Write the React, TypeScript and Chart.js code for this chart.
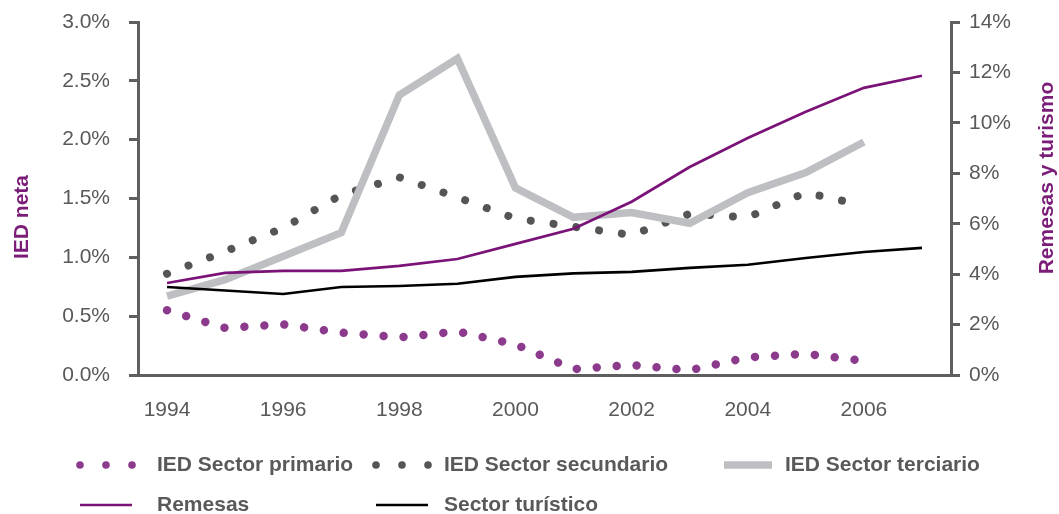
import React, { useEffect, useRef } from "react";
import { Chart, registerables } from "chart.js";

Chart.register(...registerables);

const years = ["1994", "1995", "1996", "1997", "1998", "1999", "2000", "2001", "2002", "2003", "2004", "2005", "2006", "2007"];
const iedPrimario = [0.55, 0.40, 0.43, 0.36, 0.32, 0.37, 0.26, 0.05, 0.085, 0.04, 0.15, 0.18, 0.12, null];
const iedSecundario = [0.86, 1.05, 1.25, 1.53, 1.68, 1.51, 1.33, 1.26, 1.19, 1.37, 1.34, 1.55, 1.44, null];
const iedTerciario = [0.67, 0.81, 1.01, 1.21, 2.38, 2.69, 1.59, 1.34, 1.38, 1.29, 1.55, 1.72, 1.98, null];
const remesas = [3.65, 4.05, 4.13, 4.13, 4.33, 4.6, 5.2, 5.8, 6.87, 8.25, 9.4, 10.44, 11.39, 11.87];
const turistico = [3.49, 3.35, 3.21, 3.49, 3.53, 3.62, 3.89, 4.03, 4.09, 4.25, 4.37, 4.64, 4.88, 5.04];

const labelPrimario = "IED Sector primario";
const labelSecundario = "IED Sector secundario";
const labelTerciario = "IED Sector terciario";
const labelRemesas = "Remesas";
const labelTuristico = "Sector turístico";
const leftTitle = "IED neta";
const rightTitle = "Remesas y turismo";

const FONT = "'Liberation Sans', Arial, sans-serif";
const AXIS = "#5f5f5f";
const TICK_TEXT = "#595959";
const TITLE_PURPLE = "#7a1c78";

const legendItems = [
  { ds: 0, x: 80, y: 465, textX: 157, kind: "dots" },
  { ds: 1, x: 376, y: 465, textX: 444, kind: "dots" },
  { ds: 2, x: 724, y: 465, textX: 785, kind: "line" },
  { ds: 3, x: 80, y: 505, textX: 157, kind: "line" },
  { ds: 4, x: 376, y: 505, textX: 444, kind: "line" },
];

const customPlugin = {
  id: "customDecor",
  afterDraw(chart: any) {
    const ctx = chart.ctx;
    ctx.save();
    ctx.fillStyle = TITLE_PURPLE;
    ctx.font = `bold 21px ${FONT}`;
    ctx.textAlign = "center";
    ctx.textBaseline = "middle";
    ctx.save();
    ctx.translate(22, 217);
    ctx.rotate(-Math.PI / 2);
    ctx.fillText(leftTitle, 0, 0);
    ctx.restore();
    ctx.save();
    ctx.translate(1047, 178);
    ctx.rotate(-Math.PI / 2);
    ctx.fillText(rightTitle, 0, 0);
    ctx.restore();

    legendItems.forEach((it) => {
      const ds = chart.data.datasets[it.ds];
      if (it.kind === "dots") {
        ctx.fillStyle = ds.borderColor;
        for (let i = 0; i < 3; i++) {
          ctx.beginPath();
          ctx.arc(it.x + i * 26, it.y, 3.8, 0, Math.PI * 2);
          ctx.fill();
        }
      } else {
        ctx.strokeStyle = ds.borderColor;
        ctx.lineWidth = ds.borderWidth;
        ctx.lineCap = "butt";
        ctx.beginPath();
        ctx.moveTo(it.x, it.y);
        ctx.lineTo(it.x + (it.ds === 2 ? 48 : 52), it.y);
        ctx.stroke();
      }
      ctx.fillStyle = TICK_TEXT;
      ctx.font = `bold 21px ${FONT}`;
      ctx.textAlign = "left";
      ctx.textBaseline = "middle";
      ctx.fillText(ds.label, it.textX, it.y);
    });
    ctx.restore();
  },
};

export default function App() {
  const ref = useRef<HTMLCanvasElement | null>(null);
  useEffect(() => {
    document.body.style.margin = "0";
    const canvas = ref.current;
    if (!canvas) return;
    const chart = new Chart(canvas, {
      type: "line",
      data: {
        labels: years,
        datasets: [
          {
            label: labelPrimario,
            data: iedPrimario,
            yAxisID: "y",
            borderColor: "#8c3b8c",
            borderWidth: 8.5,
            borderDash: [0.001, 20],
            borderCapStyle: "round",
            pointRadius: 0,
            tension: 0,
            fill: false,
            order: 5,
          },
          {
            label: labelSecundario,
            data: iedSecundario,
            yAxisID: "y",
            borderColor: "#555555",
            borderWidth: 8,
            borderDash: [0.001, 23],
            borderCapStyle: "round",
            pointRadius: 0,
            tension: 0,
            fill: false,
            order: 4,
          },
          {
            label: labelTerciario,
            data: iedTerciario,
            yAxisID: "y",
            borderColor: "#bebfc3",
            borderWidth: 7.5,
            borderCapStyle: "butt",
            borderJoinStyle: "miter",
            pointRadius: 0,
            tension: 0,
            fill: false,
            order: 3,
          },
          {
            label: labelRemesas,
            data: remesas,
            yAxisID: "y2",
            borderColor: "#7a1278",
            borderWidth: 2.7,
            pointRadius: 0,
            tension: 0,
            fill: false,
            order: 2,
          },
          {
            label: labelTuristico,
            data: turistico,
            yAxisID: "y2",
            borderColor: "#000000",
            borderWidth: 2.6,
            pointRadius: 0,
            tension: 0,
            fill: false,
            order: 1,
          },
        ],
      },
      options: {
        responsive: false,
        animation: false,
        devicePixelRatio: 1,
        layout: { padding: { top: 22, left: 0, right: 0, bottom: 0 } },
        plugins: {
          legend: { display: false },
          tooltip: { enabled: false },
          title: { display: false },
        },
        scales: {
          x: {
            type: "category",
            offset: true,
            grid: { display: false },
            border: { display: true, color: AXIS, width: 3 },
            ticks: {
              autoSkip: false,
              maxRotation: 0,
              padding: 15,
              color: TICK_TEXT,
              font: { family: FONT, size: 21 },
              callback: (_v: any, i: number) => (i % 2 === 0 && i < 13 ? years[i] : ""),
            },
            afterFit: (s: any) => {
              s.height = 139;
              s.paddingLeft = 0;
              s.paddingRight = 0;
            },
          },
          y: {
            type: "linear",
            position: "left",
            min: 0,
            max: 3,
            grid: { drawOnChartArea: false, drawTicks: true, tickLength: 9, color: AXIS, lineWidth: 3 },
            border: { display: true, color: AXIS, width: 3 },
            ticks: {
              stepSize: 0.5,
              padding: 19,
              color: TICK_TEXT,
              font: { family: FONT, size: 21 },
              callback: (v: any) => Number(v).toFixed(1) + "%",
            },
            afterFit: (s: any) => {
              s.width = 138;
              s.paddingTop = 0;
              s.paddingBottom = 0;
            },
          },
          y2: {
            type: "linear",
            position: "right",
            min: 0,
            max: 14,
            grid: { drawOnChartArea: false, drawTicks: true, tickLength: 9, color: AXIS, lineWidth: 3 },
            border: { display: true, color: AXIS, width: 3 },
            ticks: {
              stepSize: 2,
              padding: 9,
              color: TICK_TEXT,
              font: { family: FONT, size: 21 },
              callback: (v: any) => v + "%",
            },
            afterFit: (s: any) => {
              s.width = 108;
              s.paddingTop = 0;
              s.paddingBottom = 0;
            },
          },
        },
      } as any,
      plugins: [customPlugin],
    });
    return () => chart.destroy();
  }, []);
  return (
    <div style={{ width: 1059, height: 514, background: "#ffffff" }}>
      <canvas ref={ref} width={1059} height={514} style={{ display: "block" }} />
    </div>
  );
}
